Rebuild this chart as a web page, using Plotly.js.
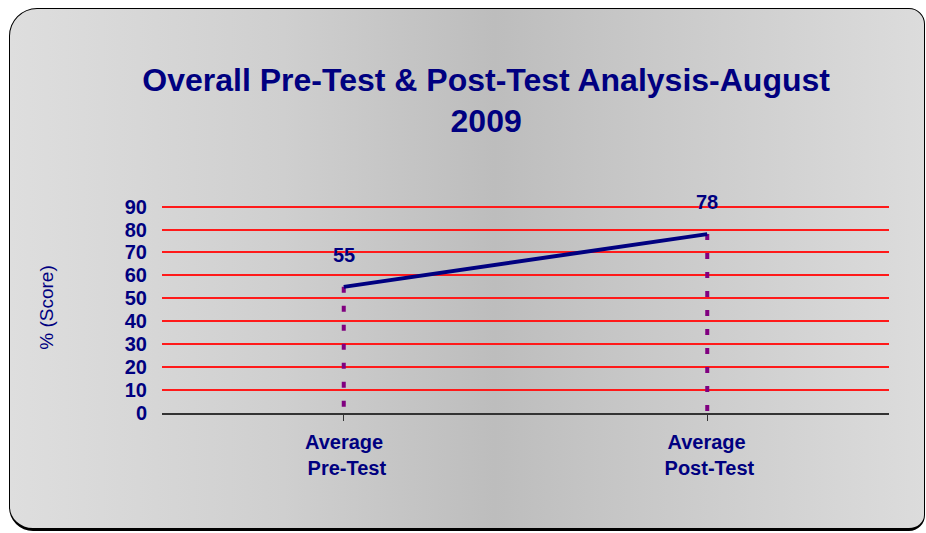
<!DOCTYPE html>
<html>
<head>
<meta charset="utf-8">
<script src="https://cdn.plot.ly/plotly-3.0.1.min.js"></script>
<style>
  html, body { margin: 0; padding: 0; width: 926px; height: 533px; overflow: hidden; background: #ffffff; }
  #frame {
    position: absolute; left: 9px; top: 8px; width: 914px; height: 519px;
    border: 1.5px solid #000; border-bottom-width: 3px; border-radius: 28px 16px 16px 24px;
    background: linear-gradient(to right, #dedede 0%, #cfcfcf 30%, #bdbdbd 53%, #cccccc 75%, #dcdcdc 100%);
  }
  #chart { position: absolute; left: 0; top: 0; width: 926px; height: 533px; }
</style>
</head>
<body>
<div id="frame"></div>
<div id="chart"></div>
<script>
const categories = ["Average Pre-Test", "Average Post-Test"];
const categoryLabels = ["Average<br> Pre-Test", "Average<br> Post-Test"];
const scores = [55, 78];
const yTicks = [0, 10, 20, 30, 40, 50, 60, 70, 80, 90];

const navy = "#000080";
const font = "Liberation Sans, Arial, sans-serif";

const xIdx = categories.map((c, i) => i);

const traces = [];
scores.forEach((v, i) => {
  traces.push({
    x: [xIdx[i], xIdx[i]], y: [v, 0], mode: "lines", type: "scatter",
    line: { color: "#800080", width: 4, dash: "6px,13px" },
    hoverinfo: "skip", showlegend: false
  });
});
traces.push({
  x: xIdx, y: scores, mode: "lines", type: "scatter",
  line: { color: navy, width: 4 }, showlegend: false
});

const annotations = [];
scores.forEach((v, i) => {
  annotations.push({
    x: xIdx[i], y: v, xref: "x", yref: "y", text: String(v), showarrow: false,
    yshift: 32, font: { family: font, size: 20, color: navy, weight: "bold" }
  });
  annotations.push({
    x: xIdx[i], y: 0, xref: "x", yref: "y", text: categoryLabels[i],
    showarrow: false, yanchor: "top", yshift: -16,
    font: { family: font, size: 20, color: navy, weight: "bold" }
  });
});

const layout = {
  width: 926, height: 533,
  paper_bgcolor: "rgba(0,0,0,0)", plot_bgcolor: "rgba(0,0,0,0)",
  margin: { l: 162, r: 37, t: 202, b: 120 },
  title: {
    text: "<b>Overall Pre-Test & Post-Test Analysis-August<br>2009</b>",
    font: { family: font, size: 32, color: navy },
    x: 0.525, xanchor: "center", y: 0.83, yanchor: "middle"
  },
  xaxis: {
    range: [-0.5, 1.5], tickvals: xIdx, ticktext: ["", ""],
    tickson: "boundaries", ticks: "outside", ticklen: 6, tickcolor: "#333",
    showline: true, linecolor: "#333", linewidth: 1.5,
    showgrid: false, zeroline: false, fixedrange: true
  },
  yaxis: {
    range: [0, 92], tickvals: yTicks, ticks: "", showline: false,
    gridcolor: "#ff1a1a", gridwidth: 2, zeroline: false,
    tickfont: { family: font, size: 20, color: navy, weight: "bold" },
    ticklabelstandoff: 14,
    title: { text: "% (Score)", font: { family: font, size: 19, color: navy }, standoff: 66 },
    fixedrange: true
  },
  annotations: annotations,
  showlegend: false
};

Plotly.newPlot("chart", traces, layout, { displayModeBar: false, staticPlot: true });
</script>
</body>
</html>
